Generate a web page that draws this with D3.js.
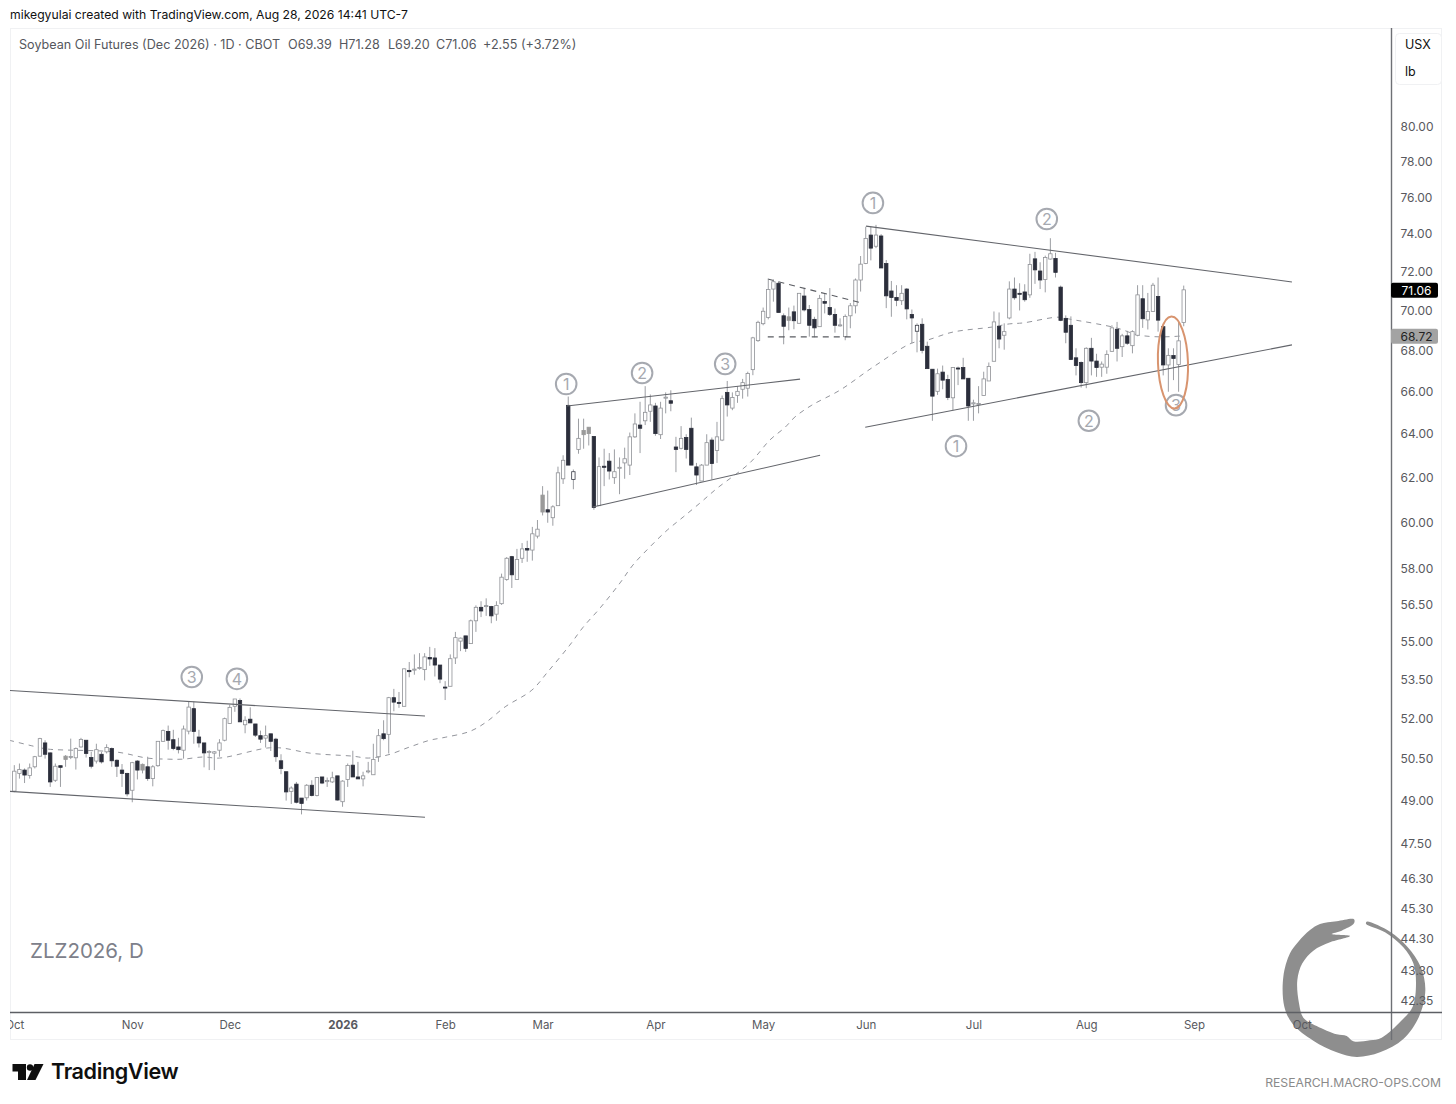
<!DOCTYPE html>
<html><head><meta charset="utf-8">
<script src="https://cdnjs.cloudflare.com/ajax/libs/d3/7.8.5/d3.min.js"></script>
<style>html,body{margin:0;padding:0;background:#fff}svg{display:block}text{font-family:"Inter","Liberation Sans",sans-serif}</style>
</head><body><svg id="c" width="1456" height="1104"></svg>
<script>
// --- bar values, one entry per trading day from 1 Oct 2025 (bar 0) to 28 Aug 2026 (bar 228)
const barOpen=[49.34,49.98,50.10,49.90,50.22,50.61,51.10,50.73,49.73,50.26,
50.49,50.58,50.55,50.95,51.20,50.56,50.43,50.68,50.77,50.89,
50.46,50.10,49.98,49.37,50.43,50.10,50.22,49.79,50.26,51.16,
51.53,51.22,50.95,50.83,51.54,52.39,51.32,51.10,50.75,50.72,
50.83,51.20,51.83,52.48,52.70,51.78,51.99,51.81,51.37,51.28,
51.44,51.24,50.44,50.04,49.33,49.59,49.09,49.10,49.55,49.18,
49.85,49.68,49.67,49.89,48.96,49.76,50.28,49.85,49.78,50.06,
49.93,50.59,51.44,51.42,52.81,52.63,52.48,53.87,53.88,53.95,
53.90,54.38,54.36,54.08,53.22,53.25,54.36,55.03,55.24,54.93,
55.85,56.40,56.45,56.43,56.12,56.55,57.55,58.52,57.55,58.45,
58.87,58.80,59.40,61.20,60.55,60.20,60.73,61.93,65.33,61.90,
63.27,63.95,64.30,63.87,60.73,62.50,62.73,61.98,62.42,62.65,
62.55,63.85,64.40,64.60,65.05,65.30,63.95,65.70,65.55,63.38,
63.32,63.82,64.25,62.47,61.83,62.55,63.70,63.22,63.70,65.95,
65.20,65.80,66.10,66.15,67.05,68.48,69.33,69.65,71.10,71.40,
69.73,69.68,69.93,69.35,70.74,70.05,69.55,69.18,70.46,70.15,
69.80,69.25,68.68,69.73,70.24,71.57,72.43,73.95,73.35,73.90,
72.43,71.00,70.67,70.50,71.10,69.80,68.95,69.30,68.20,67.07,
66.00,66.93,66.57,65.69,67.13,67.15,66.63,65.40,65.40,65.80,
66.50,67.46,69.20,68.75,69.62,71.10,70.88,70.95,70.80,72.68,
72.04,71.60,72.67,72.70,71.20,69.60,69.25,67.63,67.40,66.42,
68.10,67.47,67.17,67.17,67.95,69.05,68.18,68.72,68.23,68.75,
70.60,69.52,69.95,70.72,69.18,67.28,67.74,67.30,69.39];
const barHigh=[50.28,50.34,50.16,50.34,50.62,51.29,51.20,50.75,50.34,50.26,
50.65,51.26,50.93,51.29,51.20,50.77,51.07,50.77,51.05,50.93,
50.49,50.32,50.00,50.40,50.46,50.34,50.59,50.28,51.16,51.60,
51.75,51.59,51.29,51.75,52.66,52.66,51.59,51.10,50.83,50.80,
51.24,52.05,52.54,52.76,52.78,52.10,52.44,51.81,51.56,51.75,
51.44,51.29,50.68,50.04,49.51,49.67,49.09,49.59,49.73,49.85,
49.85,49.83,50.04,49.89,49.73,50.34,50.81,50.40,50.04,50.40,
51.07,51.62,51.95,52.84,53.15,53.03,53.95,54.20,54.50,54.55,
54.55,54.80,54.75,54.08,53.45,54.50,55.40,55.17,55.24,55.90,
56.48,56.65,56.77,56.46,56.65,57.80,58.50,58.55,58.85,59.10,
59.20,59.80,60.10,61.60,61.40,60.75,62.48,63.00,65.75,62.35,
64.70,64.70,64.30,63.87,62.90,63.30,63.10,63.27,62.90,63.35,
64.05,64.95,65.50,66.25,65.85,65.45,65.50,65.95,66.05,63.85,
64.35,63.97,64.75,62.65,62.60,63.97,63.82,64.55,65.80,66.50,
65.95,66.25,66.60,66.95,68.67,69.48,70.15,71.57,71.60,71.48,
69.85,70.15,70.25,70.88,71.15,70.28,69.68,70.80,70.85,71.15,
70.10,69.60,69.80,70.38,71.65,72.83,74.40,74.40,74.50,74.00,
72.62,71.52,71.30,71.30,71.15,70.05,69.35,69.60,68.43,67.07,
67.10,67.25,66.80,67.18,67.20,67.63,66.63,65.60,66.25,66.95,
67.40,69.95,69.90,69.35,71.50,71.70,71.40,71.35,72.95,73.05,
72.50,72.85,73.78,73.00,71.28,69.75,69.70,68.10,67.45,68.15,
68.62,67.83,67.45,68.00,69.25,69.42,68.82,68.97,69.00,71.30,
71.30,70.90,71.42,71.70,69.18,68.10,68.10,69.48,71.28];
const barLow=[49.30,49.79,49.63,49.79,50.16,50.59,50.52,49.49,49.67,49.49,
50.22,50.50,50.12,50.93,50.56,50.16,50.34,50.34,50.71,50.22,
49.85,49.49,49.15,48.94,49.76,49.98,49.71,49.51,50.22,51.14,
50.85,50.83,50.71,50.52,51.42,51.07,50.93,50.20,50.10,50.10,
50.59,51.16,51.81,52.27,51.89,51.46,51.85,51.32,51.10,50.93,
50.80,50.40,49.95,49.00,48.88,48.90,48.51,49.00,49.15,49.15,
49.59,49.49,49.63,49.00,48.78,49.49,49.85,49.78,49.51,49.98,
49.93,50.40,51.20,50.71,52.29,52.42,52.48,53.60,53.70,53.90,
53.48,54.05,53.63,53.37,52.72,53.25,54.12,54.63,54.60,54.93,
55.40,56.00,56.05,55.75,55.85,56.50,57.50,57.20,57.55,58.25,
58.30,58.35,59.30,60.30,59.98,59.85,60.73,61.70,62.55,61.46,
63.07,63.30,63.45,60.55,60.73,61.60,61.90,61.70,61.24,61.93,
62.10,63.80,63.10,64.40,64.55,63.90,63.75,64.95,65.05,62.23,
63.27,62.85,62.55,61.65,61.83,62.55,61.90,62.65,63.65,64.80,
65.10,65.45,65.65,65.75,66.78,68.42,69.25,69.55,70.45,69.90,
68.30,69.00,69.05,69.35,69.95,68.68,68.65,69.18,69.85,69.72,
68.88,69.18,68.50,69.10,69.85,70.97,72.40,72.60,73.25,72.20,
70.12,69.68,70.22,70.28,69.55,68.35,67.90,67.85,67.10,64.60,
65.83,66.10,65.58,65.10,66.30,66.60,64.60,64.60,64.95,65.80,
66.50,67.46,68.10,68.03,69.55,70.55,70.00,70.45,70.65,71.37,
71.10,70.93,72.64,71.70,69.46,68.35,67.52,66.77,66.18,66.15,
66.77,66.70,66.70,66.85,67.92,67.45,67.67,68.27,67.85,68.70,
69.12,69.04,69.95,68.93,66.77,65.98,66.54,65.98,69.20];
const barClose=[50.06,50.12,49.92,50.18,50.59,51.26,50.68,49.67,50.24,50.20,
50.61,50.60,50.89,51.23,50.71,50.24,50.85,50.40,50.93,50.44,
50.24,49.98,49.24,50.37,50.10,50.31,49.79,50.22,51.16,51.56,
51.20,50.89,50.85,51.62,52.45,51.53,51.10,50.73,50.78,50.77,
51.10,52.01,52.44,52.76,51.89,51.95,51.85,51.39,51.24,51.37,
51.16,50.59,50.16,49.31,49.45,48.94,48.90,49.55,49.18,49.83,
49.63,49.72,49.82,49.02,49.70,50.27,49.85,49.78,49.89,50.07,
50.49,51.37,51.26,52.81,52.64,52.62,53.93,53.82,53.92,53.98,
54.40,54.32,54.08,53.53,53.20,54.33,55.17,55.15,54.74,55.85,
56.40,56.25,56.47,56.05,56.48,57.65,58.45,57.75,58.40,58.85,
58.80,59.50,59.70,60.45,60.45,60.68,62.20,62.77,62.55,62.25,
63.78,64.15,64.00,60.65,62.48,62.45,62.28,62.25,62.45,62.84,
63.85,64.45,64.25,65.00,65.35,64.00,65.20,65.72,65.43,63.27,
63.78,63.27,62.55,62.10,62.55,63.58,62.62,63.85,65.65,65.35,
65.70,66.00,66.42,66.86,68.62,69.40,69.96,71.08,71.48,69.90,
69.20,69.50,69.48,70.88,70.03,69.25,69.12,70.62,70.37,69.80,
69.25,69.27,69.70,70.24,71.57,72.40,73.77,73.25,73.95,72.20,
70.75,70.66,70.52,70.88,70.08,69.62,69.25,68.00,67.10,65.77,
66.85,66.54,65.70,67.15,67.08,66.60,65.30,65.45,65.42,66.60,
67.20,69.42,68.56,68.93,71.10,70.65,70.84,70.55,72.38,72.10,
71.57,72.75,72.95,71.97,69.50,68.90,67.55,67.25,66.42,68.10,
67.47,67.15,67.32,67.80,69.12,68.10,68.72,68.35,68.93,70.80,
69.58,69.95,71.30,69.51,67.28,67.75,67.60,68.47,71.06];
const grayBars=[10,25,103,111,112,151];
const outlinedBars=[109,176];
// moving average, read at these bars
const maBars=[-1,4.4,6.6,20,25.9,30,32.9,36.8,40,49.3,52.2,57.7,66,69,72.7,77.1,81,84,88.8,92,95.7,100.9,104,108.3,110.9,114.2,118.1,120.6,123.9,127.3,130.4,133.7,137,143.4,147.3,150.3,152.2,155.5,161,167.4,175,178,183,190.6,194,196.7,203.5,205.8,215,219,223.4,228];
const maValues=[51.2,50.95,50.87,50.76,50.54,50.5,50.5,50.58,50.54,50.91,50.91,50.72,50.61,50.54,50.65,50.95,51.2,51.31,51.53,51.88,52.46,53.1,53.81,54.87,55.59,56.37,57.41,58.16,58.93,59.66,60.23,60.85,61.5,62.65,63.7,64.3,64.78,65.34,66.06,67.17,68.36,68.51,68.91,69.16,69.32,69.37,69.66,69.56,69.11,68.77,68.67,68.72];
// trend lines: bar, price, bar, price
const solidLines=[[-0.84,53.09,80.07,52.11],[-0.84,49.33,80.07,48.41],[107.75,65.3,153.2,66.59],[112.8,60.67,157.1,63.0],[166.06,74.43,249.1,71.47],[165.9,64.3,249.1,68.27]];
const dashedLines=[[146.9,71.62,165.3,70.38],[146.9,68.67,163.5,68.67]];
// circled counts
const countLabels=["1","2","1","2","3","3","4","1","2","3"];
const countBars=[167.4,201.3,107.6,122.4,138.6,34.6,43.4,183.6,209.5,226.5];
const countPrices=[75.7,74.82,66.35,66.89,67.33,53.61,53.54,63.42,64.6,65.34];
// axes
const priceTicks=[80,78,76,74,72,70,68,66,64,62,60,58,56.5,55,53.5,52,50.5,49,47.5,46.3,45.3,44.3,43.3,42.35];
const monthNames=["Oct","Nov","Dec","2026","Feb","Mar","Apr","May","Jun","Jul","Aug","Sep","Oct "];
const monthBars=[0,23,42,64,84,103,125,146,166,187,209,230,251];
const lastPrice=71.06, maLast=68.72;
const legendParts=["Soybean Oil Futures (Dec 2026) · 1D · CBOT","O69.39","H71.28","L69.20","C71.06","+2.55 (+3.72%)"];

const svg=d3.select("#c");
const x=d3.scaleLinear().domain([0,251]).range([14.3,1301.7]);
const y=d3.scaleLog().domain([80,42.35]).range([127,1001]);

// frame
svg.append("rect").attr("x",10.5).attr("y",28.5).attr("width",1431).attr("height",1011).attr("fill","#fff").attr("stroke","#f0f1f3");
const defs=svg.append("defs");
defs.append("clipPath").attr("id","plot").append("rect").attr("x",10).attr("y",28).attr("width",1381).attr("height",984);
defs.append("clipPath").attr("id","xax").append("rect").attr("x",10).attr("y",0).attr("width",1432).attr("height",28);

// ouroboros watermark
const ring=[[252,58],[200,64],[150,72],[120,90],[85,125],[60,160],[40,230],[43,320],[68,372],[130,422],[200,457],[260,471],[330,457],[400,417],[447,350],[466,270],[452,200],[412,140],[360,95],[290,65],[288,71],[345,97],[400,142],[430,190],[438,250],[428,320],[393,363],[335,413],[300,421],[250,424],[230,408],[200,403],[140,378],[100,353],[87,310],[82,240],[97,190],[130,152],[180,127],[240,108],[185,102],[215,92],[252,70]];
svg.append("path").attr("d",d3.line().x(d=>1270+d[0]/3).y(d=>900+d[1]/3).curve(d3.curveCatmullRomClosed.alpha(.5))(ring)).attr("fill","#8e8e8e");

const plot=svg.append("g").attr("clip-path","url(#plot)");
// moving average
plot.append("path").attr("d",d3.line().x(d=>x(d)).y((d,i)=>y(maValues[i])).curve(d3.curveCatmullRom.alpha(.5))(maBars))
 .attr("fill","none").attr("stroke","#93959c").attr("stroke-width",1).attr("stroke-dasharray","5 5");
// candles
const idx=d3.range(barOpen.length);
const bars=plot.append("g").selectAll("g").data(idx).join("g");
bars.append("line").attr("x1",i=>x(i)).attr("x2",i=>x(i)).attr("y1",i=>y(barHigh[i])).attr("y2",i=>y(barLow[i])).attr("stroke","#9c9ea3").attr("stroke-width",1);
bars.append("rect").attr("x",i=>x(i)-1.7).attr("width",3.4)
 .attr("y",i=>y(Math.max(barOpen[i],barClose[i])))
 .attr("height",i=>Math.max(1,Math.abs(y(barOpen[i])-y(barClose[i]))))
 .attr("fill",i=>grayBars.includes(i)?"#9a9a9a":barClose[i]<barOpen[i]?"#2b2e3b":"#fff")
 .attr("stroke",i=>grayBars.includes(i)?"#9a9a9a":barClose[i]<barOpen[i]?"#2b2e3b":outlinedBars.includes(i)?"#3a3d48":"#8f9196")
 .attr("stroke-width",.8);
// trend lines
plot.append("g").selectAll("line").data(solidLines).join("line").attr("x1",d=>x(d[0])).attr("y1",d=>y(d[1])).attr("x2",d=>x(d[2])).attr("y2",d=>y(d[3])).attr("stroke","#63656b").attr("stroke-width",1.1);
plot.append("g").selectAll("line").data(dashedLines).join("line").attr("x1",d=>x(d[0])).attr("y1",d=>y(d[1])).attr("x2",d=>x(d[2])).attr("y2",d=>y(d[3])).attr("stroke","#5a5c62").attr("stroke-width",1.1).attr("stroke-dasharray","6 5");
// count circles
const cg=plot.append("g").selectAll("g").data(countLabels).join("g").attr("transform",(d,i)=>`translate(${x(countBars[i])},${y(countPrices[i])})`);
cg.append("circle").attr("r",10.3).attr("fill","none").attr("stroke","#a6a9b0").attr("stroke-width",2);
cg.append("text").attr("text-anchor","middle").attr("dy","0.36em").attr("font-size",16).attr("fill","#a6a9b0").text(d=>d);
// ellipse on last bars
plot.append("ellipse").attr("cx",x(225.9)).attr("cy",y(67.4)).attr("rx",15).attr("ry",46).attr("transform",`rotate(-2 ${x(225.9)} ${y(67.4)})`).attr("fill","none").attr("stroke","#d8946f").attr("stroke-width",2);

// axes
const rAxis=d3.axisRight(y).tickValues(priceTicks).tickFormat(d3.format(".2f")).tickSize(0).tickPadding(9);
const ra=svg.append("g").attr("transform","translate(1391.5,0)").call(rAxis);
ra.select(".domain").remove();
ra.selectAll("text").attr("font-size",12).attr("fill","#58595e").style("font-family",'"Inter",sans-serif');
svg.append("line").attr("x1",1391.5).attr("x2",1391.5).attr("y1",28).attr("y2",1040).attr("stroke","#6e7075").attr("stroke-width",1.4);
svg.append("line").attr("x1",10).attr("x2",1442).attr("y1",1012.5).attr("y2",1012.5).attr("stroke","#5d5f64").attr("stroke-width",1.4);
const bAxis=d3.axisBottom(x).tickValues(monthBars).tickFormat((d,i)=>monthNames[i]).tickSize(0).tickPadding(9);
const ba=svg.append("g").attr("transform","translate(0,1012)").attr("clip-path","url(#xax)").call(bAxis);
ba.select(".domain").remove();
ba.selectAll("text").attr("font-size",11.5).attr("fill","#58595e").style("font-family",'"Inter",sans-serif')
  .attr("font-weight",(d,i)=>monthNames[i]==="2026"?700:400);

// price tags
[[lastPrice,"#000","#fff"],[maLast,"#a3a3a3","#222"]].forEach(([p,bg,fg])=>{
  svg.append("rect").attr("x",1391).attr("y",y(p)-7).attr("width",47).attr("height",15).attr("rx",2).attr("fill",bg);
  svg.append("text").attr("x",1416.5).attr("y",y(p)+1).attr("dy","0.36em").attr("text-anchor","middle").attr("font-size",12).attr("fill",fg).text(p.toFixed(2));
});
// unit box
svg.append("rect").attr("x",1395.5).attr("y",33.5).attr("width",46).attr("height",51).attr("rx",4).attr("fill","#fff").attr("stroke","#f0f1f3");
svg.append("text").attr("x",1405).attr("y",49).attr("font-size",12.5).attr("fill","#111").text("USX");
svg.append("text").attr("x",1405).attr("y",76).attr("font-size",12.5).attr("fill","#111").text("lb");

// texts
svg.append("text").attr("x",10).attr("y",19).attr("font-size",12.2).attr("fill","#111").text("mikegyulai created with TradingView.com, Aug 28, 2026 14:41 UTC-7");
const legendX=[19,288,339,388,436,483];
svg.append("g").selectAll("text").data(legendParts).join("text").attr("x",(d,i)=>legendX[i]).attr("y",49).attr("font-size",12.6).attr("fill","#55575d").text(d=>d);
svg.append("text").attr("x",30).attr("y",958).attr("font-size",20.5).attr("fill","#7d808a").text("ZLZ2026, D");
svg.append("text").attr("x",1441).attr("y",1087).attr("text-anchor","end").attr("font-size",12.2).attr("fill","#8a8a8a").text("RESEARCH.MACRO-OPS.COM");

// TradingView wordmark
const tv=svg.append("g").attr("fill","#0f0f0f");
tv.append("path").attr("d","M12.5 1064H26V1080H18V1071.5H12.5Z");
tv.append("circle").attr("cx",30).attr("cy",1067.5).attr("r",3.2);
tv.append("path").attr("d","M34.5 1064H43.5L35.5 1080H27Z");
svg.append("text").attr("x",51).attr("y",1079).attr("font-size",21.6).attr("font-weight",600).attr("fill","#0f0f0f").attr("letter-spacing",-0.4).text("TradingView");
</script></body></html>
